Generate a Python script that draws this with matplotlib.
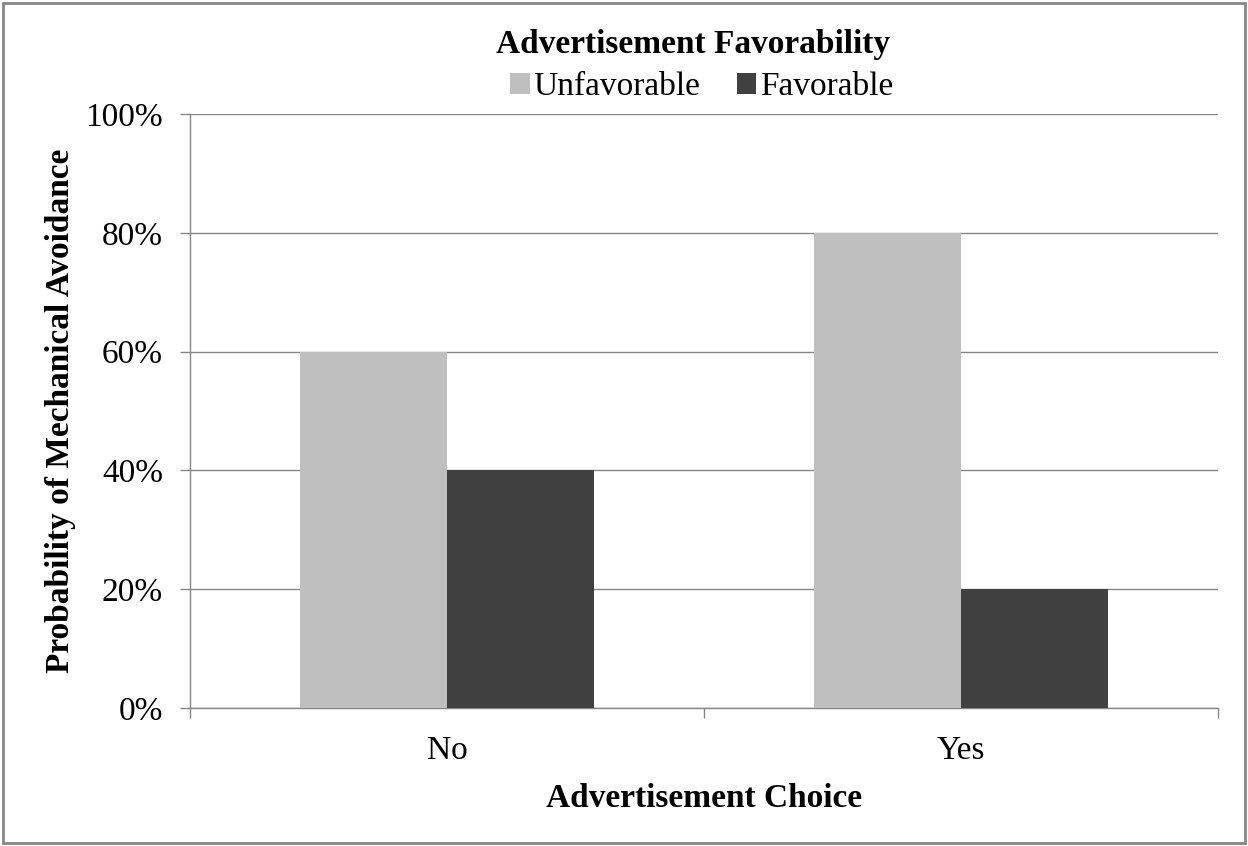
import matplotlib
matplotlib.use("Agg")
import matplotlib.pyplot as plt
from matplotlib.patches import Patch, Rectangle
from matplotlib.ticker import FixedLocator, PercentFormatter
import numpy as np

categories = ["No", "Yes"]
series_names = ["Unfavorable", "Favorable"]
unfavorable = [60, 80]
favorable = [40, 20]
colors = ["#BFBFBF", "#404040"]
yticks = [0, 20, 40, 60, 80, 100]

plt.rcParams['font.family'] = ['Liberation Serif', 'DejaVu Serif']

W, H = 1248, 846
FS = 24
fig = plt.figure(figsize=(W / 100, H / 100), dpi=100)
ax = fig.add_axes([190 / W, (H - 708) / H, 1028 / W, 594 / H])

x = np.arange(len(categories))
bw = 1 / 3.5
ax.bar(x - bw / 2, unfavorable, width=bw, color=colors[0], zorder=3)
ax.bar(x + bw / 2, favorable, width=bw, color=colors[1], zorder=3)

ax.set_xlim(-0.5, len(categories) - 0.5)
ax.set_ylim(0, 100)
ax.set_yticks(yticks)
ax.yaxis.set_major_formatter(PercentFormatter(decimals=0))
ax.yaxis.grid(True, color="#868686", linewidth=1.0, zorder=0)
ax.set_axisbelow(True)

ax.set_xticks(x)
ax.set_xticklabels(categories)
ax.xaxis.set_minor_locator(FixedLocator(np.arange(-0.5, len(categories), 1.0)))
ax.tick_params(axis='x', which='major', length=0, labelsize=FS, pad=20)
ax.tick_params(axis='x', which='minor', length=7.5, color="#868686", width=1.0)
ax.tick_params(axis='y', which='major', length=7.5, color="#868686", width=1.0, labelsize=FS, pad=12)

for s in ["top", "right"]:
    ax.spines[s].set_visible(False)
for s in ["left", "bottom"]:
    ax.spines[s].set_color("#868686")
    ax.spines[s].set_linewidth(1.0)

ax.set_xlabel("Advertisement Choice", fontsize=FS, fontweight="bold", labelpad=12)
ax.set_ylabel("Probability of Mechanical Avoidance", fontsize=FS, fontweight="bold", labelpad=7)

fig.text(693 / W, 1 - 45 / H, "Advertisement Favorability", ha="center", va="center",
         fontsize=FS, fontweight="bold")
handles = [Patch(facecolor=c, edgecolor='none') for c in colors]
leg = fig.legend(handles, series_names, loc="center", bbox_to_anchor=(702 / W, 1 - 87 / H),
                 ncol=2, frameon=False, fontsize=FS,
                 handlelength=0.58, handleheight=0.58, handletextpad=0.12, columnspacing=1.1,
                 borderpad=0, labelspacing=0)

fig.patches.append(Rectangle((3 / W, 3 / H), (W - 6) / W, (H - 6) / H, transform=fig.transFigure,
                             fill=False, edgecolor="#868686", linewidth=2.0))

fig.savefig("out.png", dpi=100)
